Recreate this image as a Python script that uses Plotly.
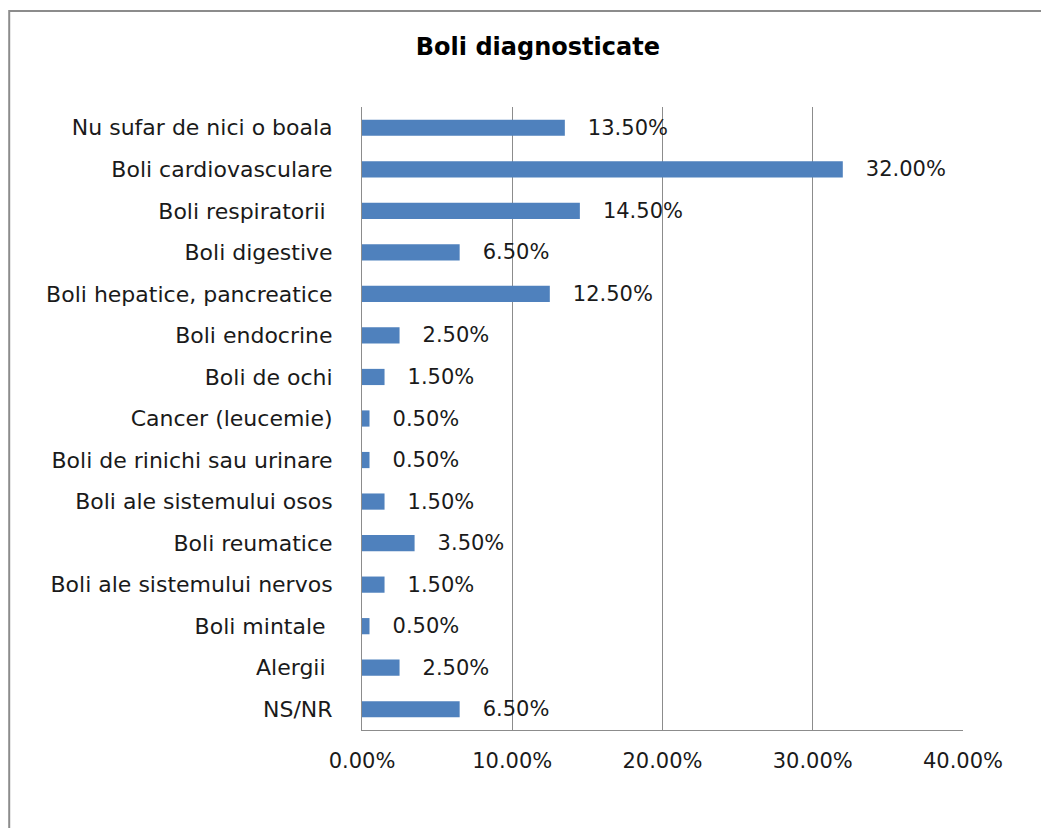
import plotly.graph_objs as go

# chart data
categories = ['Nu sufar de nici o boala', 'Boli cardiovasculare', 'Boli respiratorii ',
              'Boli digestive', 'Boli hepatice, pancreatice', 'Boli endocrine',
              'Boli de ochi', 'Cancer (leucemie)', 'Boli de rinichi sau urinare',
              'Boli ale sistemului osos', 'Boli reumatice', 'Boli ale sistemului nervos',
              'Boli mintale ', 'Alergii ', 'NS/NR']
values = [0.135, 0.32, 0.145, 0.065, 0.125, 0.025, 0.015, 0.005, 0.005,
          0.015, 0.035, 0.015, 0.005, 0.025, 0.065]
tick_vals = [0, 0.1, 0.2, 0.3, 0.4]

pad = '\u00a0' * 3
labels = [pad + f'{v:.2%}' for v in values]

txt = dict(size=22, color='#1a1a1a', family='DejaVu Sans')

fig = go.Figure()
fig.add_trace(go.Bar(
    x=values, y=categories,
    orientation='h',
    marker=dict(color='#4F81BD', line=dict(width=0)),
    width=0.39,
    text=labels,
    textposition='outside',
    textfont=dict(size=21, color='#1a1a1a', family='DejaVu Sans'),
    constraintext='none',
    cliponaxis=False,
))

fig.update_xaxes(range=[0, 0.4], tickvals=tick_vals, tickformat='.2%',
                 showgrid=True, gridcolor='#8c8c8c', gridwidth=1,
                 showline=True, linecolor='#8c8c8c', linewidth=1,
                 zeroline=False, ticks='', ticklabelstandoff=12,
                 tickfont=dict(size=21, color='#1a1a1a', family='DejaVu Sans'))
fig.update_yaxes(autorange='reversed', showgrid=False, showline=True,
                 linecolor='#8c8c8c', linewidth=1, ticks='',
                 ticklabelstandoff=24, tickfont=txt)

# page body adds an 8px offset, so the figure is 8px smaller and margins shifted
fig.update_layout(
    width=1041, height=820,
    margin=dict(l=354, r=86, t=99, b=98),
    paper_bgcolor='white',
    plot_bgcolor='white',
    font_family='DejaVu Sans',
    showlegend=False,
    title=dict(text='<b>Boli diagnosticate</b>', x=0.509, xanchor='center',
               y=0.953, yanchor='middle', font=dict(size=24, color='black')),
    shapes=[dict(type='rect', xref='paper', yref='paper',
                 x0=-0.587, x1=2, y0=-1, y1=1.154,
                 line=dict(color='#8c8c8c', width=2), layer='below')],
)

fig.write_html('out.html')
